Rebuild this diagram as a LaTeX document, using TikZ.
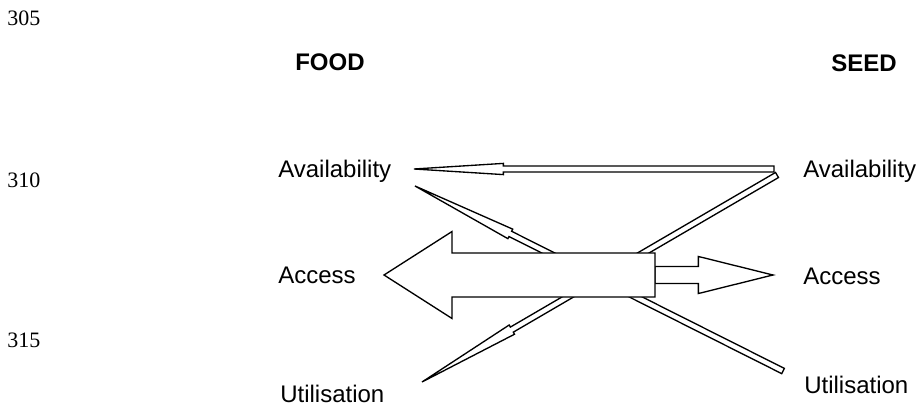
\documentclass[tikz,border=0pt]{standalone}
\usepackage{fontspec}
\setmainfont{Liberation Sans}
\newfontfamily\numfont{Liberation Serif}
\usetikzlibrary{calc}
\tikzset{
  lbl/.style={font=\fontsize{18}{21}\selectfont,anchor=base west,inner sep=0pt},
  titre/.style={lbl,font=\fontsize{18}{21}\selectfont\bfseries},
  lignum/.style={font=\numfont\fontsize{16.5}{19}\selectfont,anchor=base west,inner sep=0pt},
  contour/.style={draw=black,fill=white,line width=1pt,line join=miter}}
% fleche creuse : queue, pointe, demi-largeur tige, demi-largeur tete, longueur tete
\newcommand{\fleche}[5]{%
  \coordinate (hb) at ($(#2)!#5!(#1)$);
  \draw[contour] ($(#1)!#3!90:(#2)$) -- ($(hb)!#3!90:(#2)$) -- ($(hb)!#4!90:(#2)$) -- (#2)
     -- ($(hb)!#4!-90:(#2)$) -- ($(hb)!#3!-90:(#2)$) -- ($(#1)!#3!-90:(#2)$) -- cycle;}

\begin{document}
\begin{tikzpicture}[x=0.75pt,y=-0.75pt]
      \useasboundingbox (0,0) rectangle (917,406);
      % numeros de ligne
      \node[lignum] (n305) at (7,26) {305};
      \node[lignum] (n310) at (7,187) {310};
      \node[lignum] (n315) at (7,347) {315};
      \node[titre] (food) at (295,71) {FOOD};
      \node[titre] (seed) at (831,72) {SEED};
      \node[lbl] (fAvail) at (278,177) {Availability};
      \node[lbl] (fAcc) at (278,283) {Access};
      \node[lbl] (fUtil) at (280,402) {Utilisation};
      \node[lbl] (sAvail) at (803,178) {Availability};
      \node[lbl] (sAcc) at (803,284) {Access};
      \node[lbl] (sUtil) at (804,393) {Utilisation};
      \coordinate (a1) at (774,169); \coordinate (b1) at (414,169);
      \coordinate (a2) at (777,175); \coordinate (b2) at (422,382);
      \coordinate (a3) at (783,371); \coordinate (b3) at (415,186);
      \coordinate (c0) at (655,275); \coordinate (c1) at (384,275); \coordinate (c2) at (773,275);
      \fleche{a2}{b2}{2.2pt}{4pt}{78pt}
      \fleche{a3}{b3}{2.2pt}{4pt}{80pt}
      \fleche{a1}{b1}{2.2pt}{4.2pt}{67pt}
      \fleche{c0}{c2}{6.4pt}{13.9pt}{56pt}
      \fleche{c0}{c1}{16.5pt}{32.6pt}{51pt}
    \end{tikzpicture}
\end{document}
